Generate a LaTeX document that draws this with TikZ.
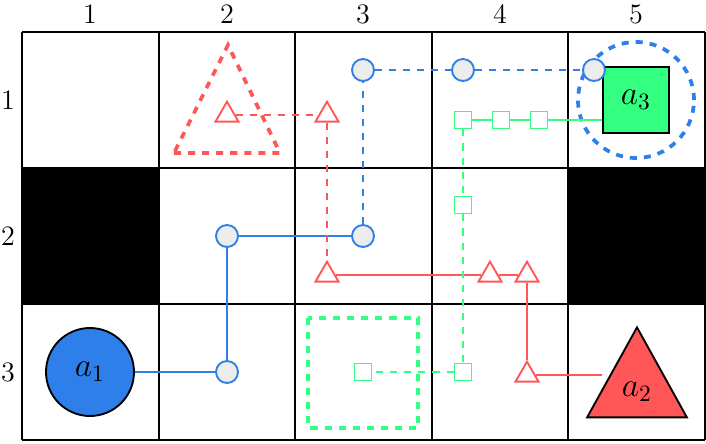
\documentclass[tikz,border=0pt]{standalone}
\usetikzlibrary{shapes.geometric}
\definecolor{agblue}{HTML}{2F7FEA}
\definecolor{agred}{HTML}{FF5757}
\definecolor{aggreen}{HTML}{33FF80}
\tikzset{
  bwp/.style={circle,draw=agblue,fill=gray!15,thick,minimum size=22*0.015cm,inner sep=0pt},
  rwp/.style={isosceles triangle,shape border rotate=90,isosceles triangle apex angle=60,draw=agred,fill=white,thick,minimum size=20*0.015cm,inner sep=0pt},
  gwp/.style={rectangle,draw=aggreen,fill=white,thick,minimum size=17*0.015cm,inner sep=0pt},
  lbl/.style={font=\large}
}
\begin{document}
\begin{tikzpicture}[x=0.015cm,y=-0.015cm]
\useasboundingbox (0,0) rectangle (706,444);
% blocked cells
\fill (22,168) rectangle (159,304);
\fill (568,168) rectangle (705,304);
% grid
\foreach \x in {22,159,295,432,568,705} \draw[thick] (\x,32) -- (\x,440);
\foreach \y in {32,168,304,440} \draw[thick] (22,\y) -- (705,\y);
\foreach \n/\x in {1/90,2/227,3/363,4/500,5/636} \node[lbl] at (\x,14) {\n};
\foreach \n/\y in {1/100,2/236,3/372} \node[lbl] at (8,\y) {\n};
% goals
\draw[agred,dashed,ultra thick] (174,153) -- (280,153) -- (228,45) -- cycle;
\draw[aggreen,dashed,ultra thick] (308,318) rectangle (418,428);
\node[circle,draw=agblue,dashed,ultra thick,minimum size=116*0.015cm] (g1) at (636,100) {};
% agents
\node[circle,draw,thick,fill=agblue,minimum size=88*0.015cm,font=\Large] (a1) at (90,372) {$a_1$};
\node[rectangle,draw,thick,fill=aggreen,minimum size=66*0.015cm,font=\Large] (a3) at (636,100) {$a_3$};
\node[isosceles triangle,shape border rotate=90,isosceles triangle apex angle=58,draw,thick,fill=agred,minimum height=90*0.015cm,inner sep=0pt] (a2) at (637,388) {};
\node[font=\Large] at (637,392) {$a_2$};
% blue path
\node[bwp] (b1) at (227,372) {};
\node[bwp] (b2) at (227,236) {};
\node[bwp] (b3) at (363,236) {};
\node[bwp] (b4) at (363,70) {};
\node[bwp] (b5) at (463,70) {};
\node[bwp] (b6) at (594,70) {};
\draw[agblue,thick] (a1) -- (b1) -- (b2) -- (b3);
\draw[agblue,thick,dashed] (b3) -- (b4) -- (b5) -- (b6);
% red path
\node[rwp] (r1) at (227,115) {};
\node[rwp] (r2) at (327,115) {};
\node[rwp] (r3) at (327,275) {};
\node[rwp] (r4) at (490,275) {};
\node[rwp] (r5) at (527,275) {};
\node[rwp] (r6) at (527,375) {};
\draw[agred,thick,dashed] (r1) -- (r2) -- (r3);
\draw[agred,thick] (r3) -- (r4) -- (r5) -- (r6) -- (r6 -| a2.west);
% green path
\node[gwp] (s1) at (539,120) {};
\node[gwp] (s2) at (501,120) {};
\node[gwp] (s3) at (463,120) {};
\node[gwp] (s4) at (463,205) {};
\node[gwp] (s5) at (463,372) {};
\node[gwp] (s6) at (363,372) {};
\draw[aggreen,thick] (a3.west |- s1) -- (s1) -- (s2) -- (s3);
\draw[aggreen,thick,dashed] (s3) -- (s4) -- (s5) -- (s6);
\end{tikzpicture}
\end{document}
